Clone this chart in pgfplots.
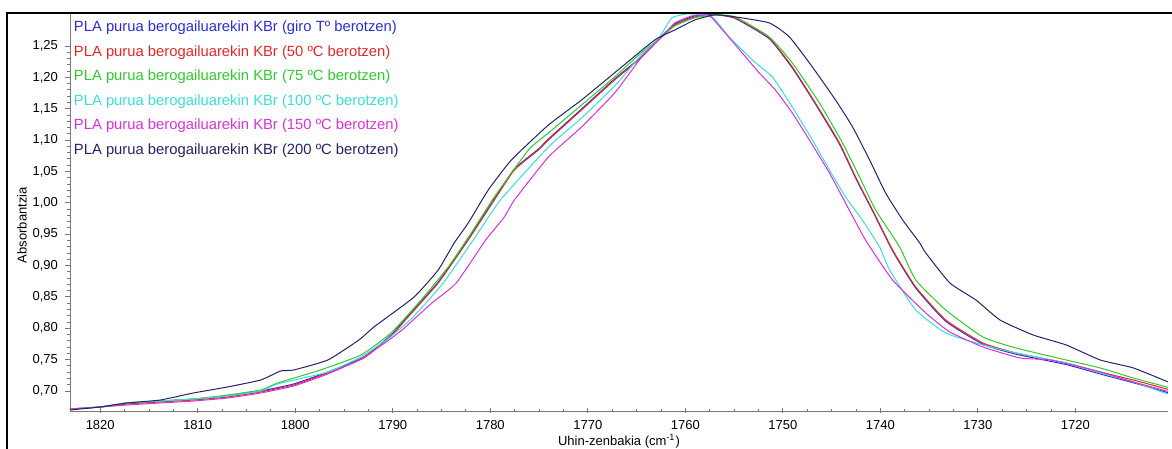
\documentclass[border=0pt]{standalone}
\usepackage{fontspec}
\setmainfont{Liberation Sans}
\usepackage{pgfplots}
\pgfplotsset{compat=1.18}

\definecolor{cblue}{RGB}{45,45,210}
\definecolor{cred}{RGB}{225,40,40}
\definecolor{cgreen}{RGB}{50,200,45}
\definecolor{ccyan}{RGB}{60,220,220}
\definecolor{cmag}{RGB}{215,50,215}
\definecolor{cnavy}{RGB}{35,35,100}
\definecolor{axgray}{RGB}{120,120,120}

\begin{document}
\begin{tikzpicture}
\path[use as bounding box] (-35pt,-19pt) rectangle (551pt,205.5pt);
\begin{axis}[
    at={(0,0)}, anchor=south west,
    width=549pt, height=199pt, scale only axis,
    xmin=1710.5, xmax=1823.1,
    ymin=0.668, ymax=1.3026,
    x dir=reverse,
    axis x line=bottom, axis y line=left,
    axis line style={-, draw=axgray, line width=0.4pt},
    xtick={1720,1730,1740,1750,1760,1770,1780,1790,1800,1810,1820},
    ytick={0.70,0.75,0.80,0.85,0.90,0.95,1.00,1.05,1.10,1.15,1.20,1.25},
    minor x tick num=3, minor y tick num=4,
    tick style={draw=axgray, line width=0.4pt},
    major tick length=2.5pt, minor tick length=1.5pt,
    xtick align=center, ytick align=outside,
    ticklabel style={font=\fontsize{6.5}{7}\selectfont},
    /pgf/number format/assume math mode=true,
    yticklabel style={/pgf/number format/.cd, fixed, fixed zerofill, precision=2, use comma},
    xticklabel style={/pgf/number format/1000 sep={}},
    xlabel={Uhin-zenbakia (cm\textsuperscript{-1})},
    ylabel={Absorbantzia},
    label style={font=\fontsize{6.5}{7}\selectfont},
    xlabel style={at={(axis description cs:0.5,-0.0754)}, anchor=center},
    ylabel style={at={(axis description cs:-0.0437,0.467)}, anchor=center},
    legend style={at={(rel axis cs:0.0036,0.98)}, anchor=north west,
        draw=none, fill=none, inner sep=0pt, outer sep=0pt,
        row sep=5.25pt, column sep=0pt,
        font=\fontsize{7.4}{8}\selectfont,
        nodes={inner sep=0pt, text height=5.4pt, text depth=1.6pt}},
    legend image code/.code={},
    legend cell align=left,
    every axis plot/.append style={line width=0.5pt, smooth, tension=0.3},
]
% giro T
\addplot[cblue] coordinates {
(1823.1,0.6712)(1820.0,0.6744)(1817.24,0.6808)(1813.84,0.6839)(1810.45,0.6871)(1806.95,0.6919)(1803.55,0.6999)(1800.16,0.7111)(1796.66,0.7302)(1792.96,0.7541)(1790.18,0.7892)(1788.43,0.8195)(1785.34,0.8737)(1782.26,0.9423)(1779.58,1.0061)(1777.52,1.0540)(1775.05,1.0859)(1774.03,1.1018)(1770.63,1.1497)(1767.24,1.1975)(1764.77,1.2294)(1762.71,1.2613)(1761.06,1.2852)(1759.01,1.2980)(1756.95,1.3000)(1754.89,1.2940)(1751.39,1.2615)(1749.03,1.2150)(1746.66,1.1575)(1744.19,1.0935)(1742.54,1.0395)(1740.80,0.9870)(1738.74,0.9232)(1736.37,0.8640)(1733.29,0.8110)(1729.48,0.7745)(1726.08,0.7585)(1720.94,0.7420)(1717.44,0.7270)(1714.05,0.7130)(1710.24,0.6960)};
\addlegendentry{\textcolor{cblue}{PLA purua berogailuarekin KBr (giro Tº berotzen)}}
% 50 C
\addplot[cred] coordinates {
(1823.1,0.6712)(1820.0,0.6744)(1817.24,0.6792)(1813.84,0.6824)(1810.45,0.6855)(1806.95,0.6903)(1803.55,0.6983)(1800.16,0.7095)(1796.66,0.7286)(1792.96,0.7525)(1790.18,0.7876)(1788.43,0.8179)(1785.34,0.8721)(1782.26,0.9407)(1779.58,1.0045)(1777.52,1.0524)(1775.05,1.0843)(1774.03,1.1002)(1770.63,1.1481)(1767.24,1.1959)(1764.77,1.2278)(1762.71,1.2597)(1761.06,1.2836)(1759.01,1.2964)(1756.95,1.2996)(1754.89,1.2948)(1751.39,1.2629)(1749.03,1.2166)(1746.66,1.1592)(1744.19,1.0954)(1742.54,1.0412)(1740.80,0.9886)(1738.74,0.9248)(1736.37,0.8658)(1733.29,0.8131)(1729.48,0.7765)(1726.08,0.7605)(1720.94,0.7446)(1717.44,0.7302)(1714.05,0.7174)(1710.24,0.7015)};
\addlegendentry{\textcolor{cred}{PLA purua berogailuarekin KBr (50 ºC berotzen)}}
% 75 C
\addplot[cgreen] coordinates {
(1823.1,0.6712)(1820.0,0.6744)(1817.24,0.6808)(1813.84,0.6839)(1810.45,0.6871)(1806.95,0.6935)(1803.55,0.7015)(1801.80,0.7127)(1797.5,0.7330)(1793.27,0.7573)(1790.18,0.7924)(1787.09,0.8450)(1784.31,0.8977)(1781.95,0.9519)(1779.58,1.0093)(1776.08,1.0843)(1774.03,1.1114)(1770.63,1.1560)(1767.24,1.2007)(1764.77,1.2358)(1762.71,1.2613)(1761.06,1.2820)(1759.01,1.2950)(1756.95,1.2996)(1754.89,1.2964)(1751.39,1.2645)(1749.03,1.2230)(1746.25,1.1592)(1743.88,1.0954)(1742.13,1.0412)(1740.49,0.9886)(1738.02,0.9296)(1736.37,0.8769)(1733.29,0.8291)(1729.48,0.7860)(1726.08,0.7685)(1720.94,0.7493)(1717.44,0.7366)(1714.05,0.7206)(1710.24,0.7047)};
\addlegendentry{\textcolor{cgreen}{PLA purua berogailuarekin KBr (75 ºC berotzen)}}
% 100 C
\addplot[ccyan] coordinates {
(1823.1,0.6712)(1820.0,0.6744)(1817.24,0.6808)(1813.84,0.6839)(1810.45,0.6871)(1806.95,0.6919)(1803.55,0.6999)(1801.80,0.7111)(1796.66,0.7302)(1793.27,0.7541)(1790.5,0.7830)(1787.91,0.8179)(1784.83,0.8721)(1781.74,0.9407)(1778.96,1.0045)(1774.03,1.0890)(1770.63,1.1353)(1767.24,1.1863)(1764.77,1.2310)(1762.71,1.2629)(1761.37,1.2948)(1759.62,1.3012)(1757.26,1.2964)(1755.51,1.2645)(1753.14,1.2278)(1751.08,1.2007)(1749.03,1.1528)(1746.97,1.1002)(1745.22,1.0524)(1743.57,1.0093)(1741.85,0.9726)(1740.08,0.9296)(1739.05,0.8929)(1736.37,0.8291)(1733.29,0.7924)(1729.48,0.7733)(1726.08,0.7605)(1720.94,0.7446)(1717.44,0.7286)(1714.05,0.7143)(1710.24,0.6935)};
\addlegendentry{\textcolor{ccyan}{PLA purua berogailuarekin KBr (100 ºC berotzen)}}
% 150 C
\addplot[cmag] coordinates {
(1823.1,0.6712)(1820.0,0.6744)(1817.24,0.6776)(1813.84,0.6808)(1810.45,0.6839)(1806.95,0.6887)(1803.55,0.6967)(1800.16,0.7079)(1796.66,0.7270)(1793.27,0.7509)(1790.5,0.7800)(1788.84,0.8000)(1786.0,0.8400)(1783.49,0.8721)(1780.5,0.9400)(1778.55,0.9774)(1777.52,1.0045)(1774.03,1.0731)(1770.63,1.1210)(1767.24,1.1752)(1764.46,1.2326)(1762.40,1.2645)(1761.06,1.2868)(1759.32,1.2980)(1757.77,1.2996)(1757.26,1.2948)(1755.92,1.2709)(1754.17,1.2390)(1752.42,1.2071)(1750.77,1.1800)(1749.03,1.1433)(1747.28,1.1002)(1745.22,1.0476)(1743.57,0.9997)(1741.52,0.9407)(1738.74,0.8769)(1735.34,0.8243)(1732.87,0.7940)(1729.48,0.7701)(1725.67,0.7525)(1722.58,0.7493)(1717.44,0.7302)(1714.05,0.7143)(1710.24,0.6983)};
\addlegendentry{\textcolor{cmag}{PLA purua berogailuarekin KBr (150 ºC berotzen)}}
% 200 C
\addplot[cnavy] coordinates {
(1823.1,0.6696)(1820.0,0.6744)(1817.24,0.6808)(1813.84,0.6855)(1810.45,0.6967)(1806.95,0.7063)(1803.55,0.7174)(1801.50,0.7318)(1800.16,0.7334)(1796.66,0.7493)(1793.47,0.7812)(1791.93,0.8020)(1787.81,0.8498)(1785.34,0.8929)(1783.70,0.9359)(1782.26,0.9678)(1780.20,1.0205)(1777.83,1.0683)(1774.03,1.1241)(1770.63,1.1640)(1766.52,1.2166)(1763.12,1.2597)(1761.06,1.2757)(1759.01,1.2916)(1756.95,1.2996)(1754.89,1.2964)(1751.39,1.2868)(1749.33,1.2645)(1746.97,1.2166)(1744.60,1.1640)(1742.85,1.1210)(1741.10,1.0683)(1739.46,1.0157)(1737.71,0.9726)(1735.96,0.9359)(1735.34,0.9200)(1732.87,0.8721)(1730.20,0.8450)(1727.73,0.8131)(1724.33,0.7892)(1720.94,0.7733)(1717.44,0.7493)(1714.05,0.7366)(1710.24,0.7127)};
\addlegendentry{\textcolor{cnavy}{PLA purua berogailuarekin KBr (200 ºC berotzen)}}
\end{axis}
\draw[line width=1pt] (-31.5pt,-19pt) -- (-31.5pt,199pt) -- (551pt,199pt);
\end{tikzpicture}
\end{document}
